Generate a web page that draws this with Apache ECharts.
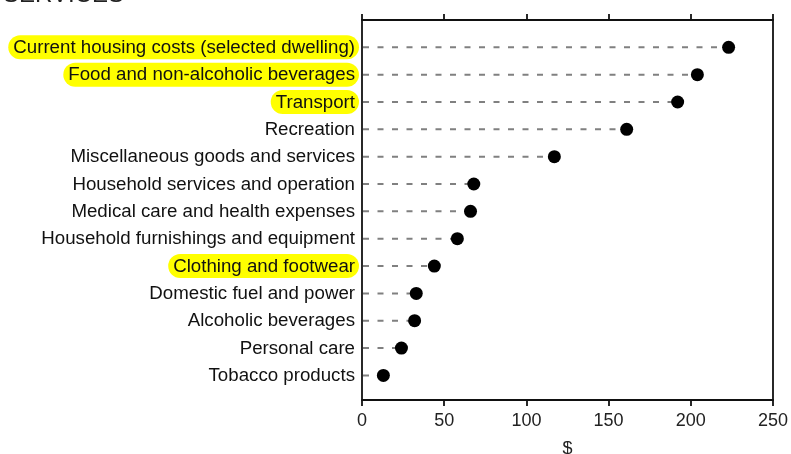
<!DOCTYPE html>
<html>
<head>
<meta charset="utf-8">
<script src="https://cdn.jsdelivr.net/npm/echarts@6/dist/echarts.min.js"></script>
<style>
html,body{margin:0;padding:0;background:#fff;}
#chart{width:791px;height:454px;}
</style>
</head>
<body>
<div id="chart"></div>
<script>
var title = 'SERVICES';
var categories = [
  'Current housing costs (selected dwelling)',
  'Food and non-alcoholic beverages',
  'Transport',
  'Recreation',
  'Miscellaneous goods and services',
  'Household services and operation',
  'Medical care and health expenses',
  'Household furnishings and equipment',
  'Clothing and footwear',
  'Domestic fuel and power',
  'Alcoholic beverages',
  'Personal care',
  'Tobacco products'
];
var values = [223, 204, 192, 161, 117, 68, 66, 58, 44, 33, 32, 24, 13];
var highlighted = [
  'Current housing costs (selected dwelling)',
  'Food and non-alcoholic beverages',
  'Transport',
  'Clothing and footwear'
];
var xTicks = [0, 50, 100, 150, 200, 250];
var xAxisName = '$';

var FONT = 'Liberation Sans';
var chart = echarts.init(document.getElementById('chart'), null, {renderer: 'canvas'});

var points = values.map(function (v, i) { return [v, i]; });

var axisLineStyle = {color: '#111', width: 1.8};

chart.setOption({
  animation: false,
  title: {
    text: title,
    left: -2,
    top: -22,
    textStyle: {fontFamily: FONT, fontSize: 24, fontWeight: 'normal', color: '#222'}
  },
  grid: {left: 362, right: 18, top: 20, bottom: 54, containLabel: false, outerBoundsMode: 'none'},
  xAxis: [{
    type: 'value', position: 'bottom',
    min: xTicks[0], max: xTicks[xTicks.length - 1], interval: xTicks[1] - xTicks[0],
    axisLine: {show: true, onZero: false, lineStyle: axisLineStyle},
    axisTick: {show: true, length: 6, lineStyle: axisLineStyle},
    splitLine: {show: false},
    axisLabel: {fontFamily: FONT, fontSize: 18, color: '#222', margin: 12},
    name: xAxisName, nameLocation: 'middle', nameGap: 40,
    nameTextStyle: {fontFamily: FONT, fontSize: 18, color: '#222'}
  }, {
    type: 'value', position: 'top',
    min: xTicks[0], max: xTicks[xTicks.length - 1], interval: xTicks[1] - xTicks[0],
    axisLine: {show: true, onZero: false, lineStyle: axisLineStyle},
    axisTick: {show: true, length: 6, lineStyle: axisLineStyle},
    splitLine: {show: false},
    axisLabel: {show: false}
  }],
  yAxis: [{
    type: 'value', inverse: true, position: 'left',
    min: -1, max: 12.9, interval: 1,
    axisLine: {show: true, onZero: false, lineStyle: axisLineStyle},
    axisTick: {show: false},
    splitLine: {show: false},
    axisLabel: {
      margin: 3,
      showMinLabel: true, showMaxLabel: true,
      formatter: function (v) {
        if (Math.abs(v - Math.round(v)) > 1e-6) return '';
        var i = Math.round(v);
        if (i < 0 || i >= categories.length) return '';
        var name = categories[i];
        return highlighted.indexOf(name) >= 0 ? '{hl|' + name + '}' : '{n|' + name + '}';
      },
      rich: {
        hl: {fontFamily: FONT, fontSize: 18.7, color: '#111', backgroundColor: '#ffff00',
             borderRadius: 12, padding: [3, 4, 2, 5]},
        n: {fontFamily: FONT, fontSize: 18.7, color: '#111', padding: [3, 4, 2, 5]}
      }
    }
  }, {
    type: 'value', inverse: true, position: 'right',
    min: -1, max: 12.9, interval: 1,
    axisLine: {show: true, onZero: false, lineStyle: axisLineStyle},
    axisTick: {show: false},
    splitLine: {show: false},
    axisLabel: {show: false}
  }],
  series: [{
    type: 'custom',
    xAxisIndex: 0, yAxisIndex: 0,
    data: points,
    renderItem: function (params, api) {
      var a = api.coord([0, api.value(1)]);
      var b = api.coord([api.value(0), api.value(1)]);
      return {
        type: 'line',
        shape: {x1: a[0] + 1, y1: a[1], x2: b[0], y2: b[1]},
        style: {stroke: '#808080', lineWidth: 2, lineDash: [6, 8.5], fill: null}
      };
    },
    z: 1
  }, {
    type: 'scatter',
    xAxisIndex: 0, yAxisIndex: 0,
    data: points,
    symbol: 'circle',
    symbolSize: 13,
    itemStyle: {color: '#000', opacity: 1},
    z: 3
  }]
});
</script>
</body>
</html>
